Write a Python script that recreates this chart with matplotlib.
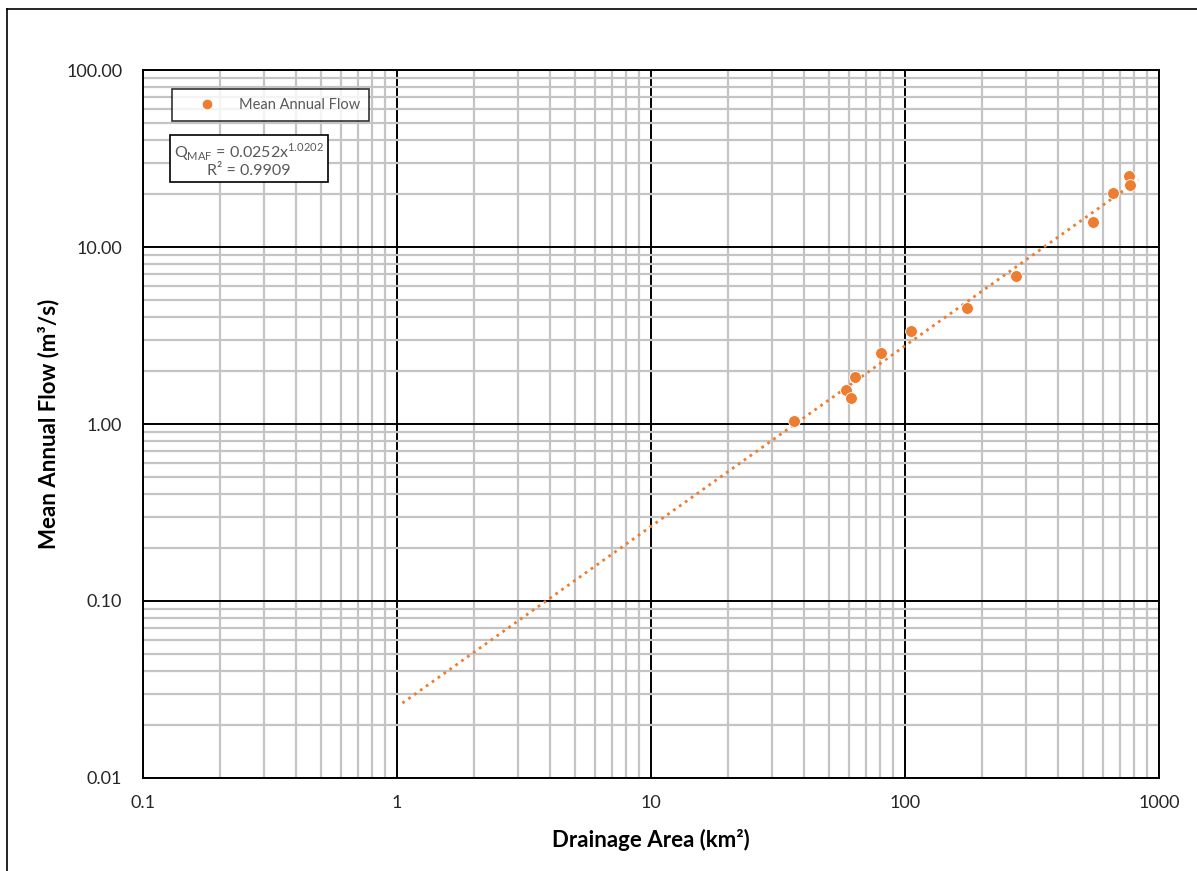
import numpy as np
import matplotlib.pyplot as plt
from matplotlib.lines import Line2D
from matplotlib.ticker import FixedLocator, LogLocator, NullFormatter

# Drainage area (km2) vs mean annual flow (m3/s)
area = [36.6, 58.6, 61.3, 63.5, 80.5, 105.7, 175, 273.5, 549, 659, 762, 769]
flow = [1.04, 1.56, 1.40, 1.84, 2.52, 3.35, 4.52, 6.86, 13.8, 20.2, 25.2, 22.4]

# power trendline from the chart
coef = 0.0252
expo = 1.0202
trend_start = 1.05
trend_end = 830

x_ticks = [0.1, 1, 10, 100, 1000]
x_labels = ['0.1', '1', '10', '100', '1000']
y_ticks = [0.01, 0.1, 1, 10, 100]
y_labels = ['0.01', '0.10', '1.00', '10.00', '100.00']

plt.rcParams['font.family'] = ['Lato', 'DejaVu Sans']
orange = '#ED7D31'
gray_text = '#595959'

fig = plt.figure(figsize=(11.97, 8.71), dpi=100)
ax = fig.add_axes([0.1195, 0.1068, 0.8488, 0.8128])
ax.set_xscale('log')
ax.set_yscale('log')
ax.set_xlim(0.1, 1000)
ax.set_ylim(0.01, 100)

ax.xaxis.set_major_locator(FixedLocator(x_ticks))
ax.yaxis.set_major_locator(FixedLocator(y_ticks))
ax.set_xticklabels(x_labels)
ax.set_yticklabels(y_labels)
ax.xaxis.set_minor_locator(LogLocator(base=10, subs=np.arange(2, 10)))
ax.yaxis.set_minor_locator(LogLocator(base=10, subs=np.arange(2, 10)))
ax.xaxis.set_minor_formatter(NullFormatter())
ax.yaxis.set_minor_formatter(NullFormatter())
ax.tick_params(which='both', length=0, labelsize=13, colors='#262626')
ax.tick_params(axis='x', pad=12)
ax.tick_params(axis='y', pad=15)

ax.grid(which='minor', color='#c4c4c4', lw=1.6)
ax.grid(which='major', color='black', lw=1.4)
ax.set_axisbelow(True)
for s in ax.spines.values():
    s.set_color('black')
    s.set_linewidth(1.4)

# trendline
xt = np.logspace(np.log10(trend_start), np.log10(trend_end), 200)
ax.plot(xt, coef * xt ** expo, color=orange, lw=2, ls=(0, (1, 1.6)), zorder=3)

ax.plot(area, flow, 'o', color=orange, ms=8.5, mec='white', mew=0.6,
        zorder=4, label='Mean Annual Flow')

ax.set_xlabel('Drainage Area (km²)', fontsize=16, fontweight='bold', labelpad=13)
ax.set_ylabel('Mean Annual Flow (m³/s)', fontsize=16, fontweight='bold', labelpad=5)

leg = ax.legend(loc='upper left', bbox_to_anchor=(0.0285, 0.973), fontsize=10.5,
                frameon=True, fancybox=False, edgecolor='black',
                handletextpad=0.4, borderpad=0.6, labelcolor=gray_text,
                handlelength=3.6, markerscale=0.9, borderaxespad=0)
leg.get_frame().set_linewidth(1.2)

ax.text(0.104, 0.873, 'Q$_{\\mathregular{MAF}}$ = 0.0252x$^{\\mathregular{1.0202}}$\nR² = 0.9909',
        transform=ax.transAxes, ha='center', va='center', fontsize=11.5,
        color=gray_text, linespacing=1.1,
        bbox=dict(boxstyle='square,pad=0.25', fc='white', ec='black', lw=1.2))

# outer frame lines (top and left)
fig.add_artist(Line2D([7 / 1197, 1], [1 - 9 / 871, 1 - 9 / 871], color='black', lw=1.2))
fig.add_artist(Line2D([7 / 1197, 7 / 1197], [0, 1 - 9 / 871], color='black', lw=1.2))

fig.savefig('out.png', dpi=100, facecolor='white')
